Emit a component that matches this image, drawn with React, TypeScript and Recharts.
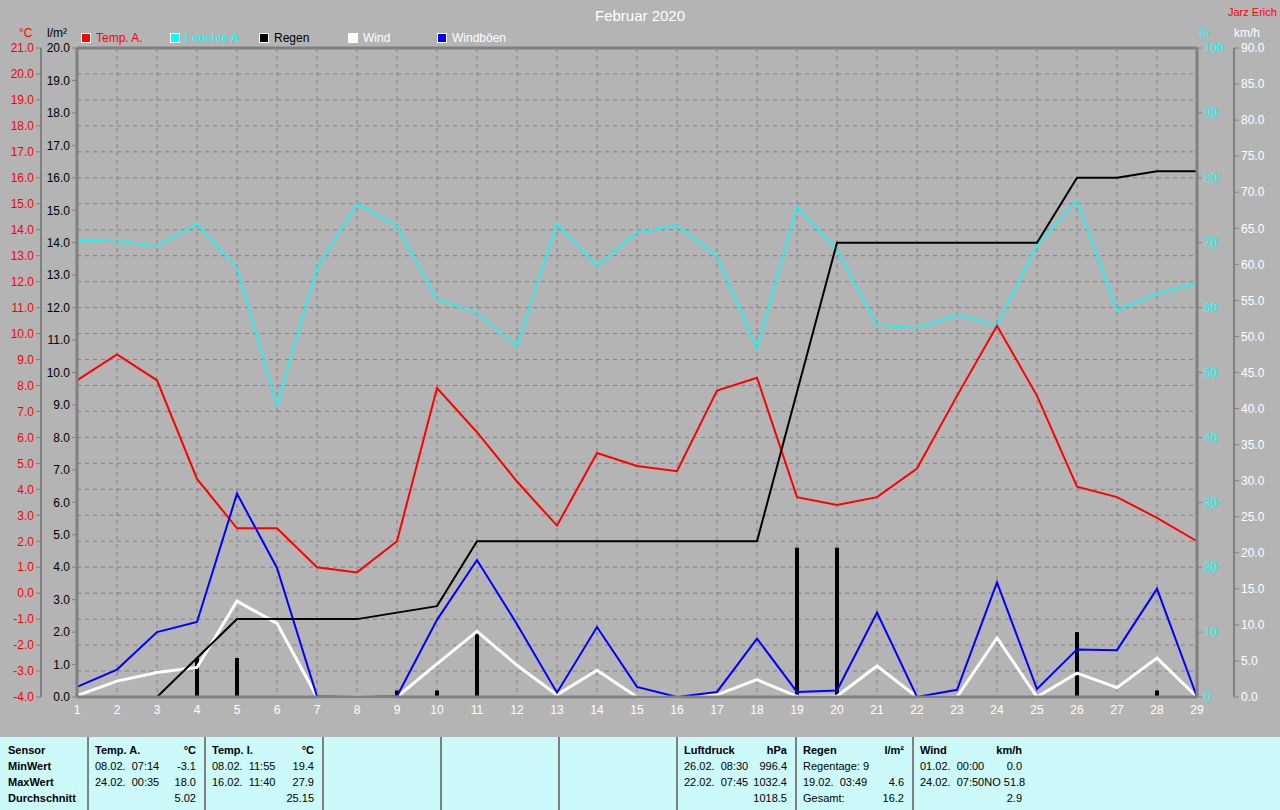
import {
  Bar,
  CartesianGrid,
  ComposedChart,
  Line,
  ReferenceLine,
  XAxis,
  YAxis,
} from "recharts";

const days = [
  1, 2, 3, 4, 5, 6, 7, 8, 9, 10, 11, 12, 13, 14, 15, 16, 17, 18, 19, 20, 21,
  22, 23, 24, 25, 26, 27, 28, 29,
];
const tempA = [
  8.2, 9.2, 8.2, 4.4, 2.5, 2.5, 1.0, 0.8, 2.0, 7.9, 6.2, 4.3, 2.6, 5.4, 4.9,
  4.7, 7.8, 8.3, 3.7, 3.4, 3.7, 4.8, 7.6, 10.3, 7.6, 4.1, 3.7, 2.9, 2.0,
];
const feuchte = [
  70.4, 70.2, 69.5, 72.9, 66.1, 45.0, 66.1, 76.0, 72.6, 61.3, 59.2, 54.1, 72.9,
  66.4, 71.6, 72.6, 68.0, 53.6, 75.5, 68.9, 57.3, 56.9, 58.9, 57.3, 69.6, 76.6,
  59.6, 62.1, 63.8,
];
const regenTag = [
  0, 0, 0, 1.2, 1.2, 0, 0, 0, 0.2, 0.2, 2.0, 0, 0, 0, 0, 0, 0, 0, 4.6, 4.6, 0,
  0, 0, 0, 0, 2.0, 0, 0.2, 0,
];
const regenSumme = [
  0, 0, 0, 1.2, 2.4, 2.4, 2.4, 2.4, 2.6, 2.8, 4.8, 4.8, 4.8, 4.8, 4.8, 4.8, 4.8,
  4.8, 9.4, 14.0, 14.0, 14.0, 14.0, 14.0, 14.0, 16.0, 16.0, 16.2, 16.2,
];
const wind = [
  0.2, 2.2, 3.4, 4.1, 13.3, 10.2, 0, 0, 0, 4.6, 9.1, 4.4, 0.3, 3.7, 0, 0, 0.3,
  2.4, 0.1, 0.1, 4.3, 0, 0, 8.2, 0, 3.3, 1.3, 5.4, 0,
];
const boeen = [
  1.4, 3.8, 9.0, 10.4, 28.2, 17.9, 0.1, 0, 0.1, 10.7, 19.0, 10.1, 0.6, 9.7, 1.4,
  0, 0.7, 8.1, 0.7, 0.9, 11.7, 0, 1.0, 15.9, 1.1, 6.6, 6.5, 15.0, 0,
];

const tempTicks = [
  -4, -3, -2, -1, 0, 1, 2, 3, 4, 5, 6, 7, 8, 9, 10, 11, 12, 13, 14, 15, 16, 17,
  18, 19, 20, 21,
];
const regenTicks = [
  0, 1, 2, 3, 4, 5, 6, 7, 8, 9, 10, 11, 12, 13, 14, 15, 16, 17, 18, 19, 20,
];
const feuchteTicks = [0, 10, 20, 30, 40, 50, 60, 70, 80, 90, 100];
const windTicks = [
  0, 5, 10, 15, 20, 25, 30, 35, 40, 45, 50, 55, 60, 65, 70, 75, 80, 85, 90,
];

const legend = [
  { name: "Temp. A.", color: "#ff0000", text: "#ff0000" },
  { name: "Feuchte A.", color: "#00ffff", text: "#00ffff" },
  { name: "Regen", color: "#000000", text: "#000000" },
  { name: "Wind", color: "#ffffff", text: "#ffffff" },
  { name: "Windböen", color: "#0000ff", text: "#ffffff" },
];

// Tabelle unten: [Überschrift, Einheit], dann Zeilen [links, rechts]
const tableCols = [
  { head: ["Temp. A.", "°C"], rows: [["08.02.  07:14", "-3.1"], ["24.02.  00:35", "18.0"], ["", "5.02"]] },
  { head: ["Temp. I.", "°C"], rows: [["08.02.  11:55", "19.4"], ["16.02.  11:40", "27.9"], ["", "25.15"]] },
  null,
  null,
  null,
  { head: ["Luftdruck", "hPa"], rows: [["26.02.  08:30", "996.4"], ["22.02.  07:45", "1032.4"], ["", "1018.5"]] },
  { head: ["Regen", "l/m²"], rows: [["Regentage: 9", ""], ["19.02.  03:49", "4.6"], ["Gesamt:", "16.2"]] },
  { head: ["Wind", "km/h"], rows: [["01.02.  00:00", "0.0"], ["24.02.  07:50", "NO 51.8"], ["", "2.9"]] },
];
const rowLabels = ["Sensor", "MinWert", "MaxWert", "Durchschnitt"];

const data = days.map((d, i) => ({
  day: d,
  temp: tempA[i],
  feuchte: feuchte[i],
  regen: regenTag[i],
  summe: regenSumme[i],
  wind: wind[i],
  boeen: boeen[i],
}));

const BG = "#b4b4b4";
const AXIS = "#808080";
const FONT = "'Liberation Sans', Arial, sans-serif";

const txt = (x: number, y: number, color: string, s: string, size = 12) => (
  <div
    style={{
      position: "absolute",
      left: x,
      top: y,
      color,
      fontSize: size,
      lineHeight: "14px",
      whiteSpace: "nowrap",
    }}
  >
    {s}
  </div>
);

export default function App() {
  const colX = [88, 205, 323, 441, 559, 677, 796, 913];
  return (
    <div
      style={{
        position: "absolute",
        left: 0,
        top: 0,
        width: 1280,
        height: 810,
        background: BG,
        fontFamily: FONT,
        overflow: "hidden",
      }}
    >
      <ComposedChart
        width={1280}
        height={737}
        data={data}
        margin={{ top: 48, right: 0, bottom: 0, left: 0 }}
        style={{ position: "absolute", left: 0, top: 0 }}
      >
        <CartesianGrid yAxisId="temp" stroke={AXIS} strokeDasharray="4 4" />
        <XAxis
          dataKey="day"
          type="number"
          domain={[1, 29]}
          ticks={days}
          interval={0}
          height={40}
          axisLine={{ stroke: AXIS, strokeWidth: 3 }}
          tickLine={false}
          tick={{ fill: "#ffffff", fontSize: 12 }}
        />
        <YAxis
          yAxisId="regen"
          orientation="left"
          width={36}
          domain={[0, 20]}
          ticks={regenTicks}
          interval={0}
          axisLine={{ stroke: AXIS, strokeWidth: 3 }}
          tickLine={{ stroke: AXIS }}
          tickSize={5}
          tickMargin={2}
          tick={{ fill: "#000000", fontSize: 12 }}
          tickFormatter={(v: number) => v.toFixed(1)}
        />
        <YAxis
          yAxisId="temp"
          orientation="left"
          width={41}
          domain={[-4, 21]}
          ticks={tempTicks}
          interval={0}
          axisLine={{ stroke: AXIS, strokeWidth: 2 }}
          tickLine={{ stroke: AXIS }}
          tickSize={5}
          tickMargin={2}
          tick={{ fill: "#ff0000", fontSize: 12 }}
          tickFormatter={(v: number) => v.toFixed(1)}
        />
        <YAxis
          yAxisId="feuchte"
          orientation="right"
          width={37}
          domain={[0, 100]}
          ticks={feuchteTicks}
          interval={0}
          axisLine={{ stroke: AXIS, strokeWidth: 3 }}
          tickLine={{ stroke: AXIS }}
          tickSize={5}
          tickMargin={2}
          tick={{ fill: "#00ffff", fontSize: 12 }}
        />
        <YAxis
          yAxisId="wind"
          orientation="right"
          width={46}
          domain={[0, 90]}
          ticks={windTicks}
          interval={0}
          axisLine={{ stroke: AXIS, strokeWidth: 2 }}
          tickLine={{ stroke: AXIS }}
          tickSize={5}
          tickMargin={2}
          tick={{ fill: "#ffffff", fontSize: 12 }}
          tickFormatter={(v: number) => v.toFixed(1)}
        />
        <ReferenceLine yAxisId="regen" y={20} stroke={AXIS} strokeWidth={3} />
        <Line
          yAxisId="feuchte"
          dataKey="feuchte"
          type="linear"
          stroke="#00ffff"
          strokeWidth={1.5}
          dot={false}
          activeDot={false}
          isAnimationActive={false}
        />
        <Line
          yAxisId="temp"
          dataKey="temp"
          type="linear"
          stroke="#ff0000"
          strokeWidth={2}
          dot={false}
          activeDot={false}
          isAnimationActive={false}
        />
        <Line
          yAxisId="wind"
          dataKey="wind"
          type="linear"
          stroke="#ffffff"
          strokeWidth={3}
          dot={false}
          activeDot={false}
          isAnimationActive={false}
        />
        <Line
          yAxisId="wind"
          dataKey="boeen"
          type="linear"
          stroke="#0000ff"
          strokeWidth={2}
          dot={false}
          activeDot={false}
          isAnimationActive={false}
        />
        <Line
          yAxisId="regen"
          dataKey="summe"
          type="linear"
          stroke="#000000"
          strokeWidth={2}
          dot={false}
          activeDot={false}
          isAnimationActive={false}
        />
        <Bar
          yAxisId="regen"
          dataKey="regen"
          fill="#000000"
          barSize={4}
          isAnimationActive={false}
        />
      </ComposedChart>

      <div
        style={{
          position: "absolute",
          left: 0,
          top: 7,
          width: 1280,
          textAlign: "center",
          color: "#ffffff",
          fontSize: 15,
        }}
      >
        Februar 2020
      </div>
      {txt(1228, 5, "#ff0000", "Jarz Erich", 11)}
      {txt(19, 26, "#ff0000", "°C")}
      {txt(47, 26, "#000000", "l/m²")}
      {txt(1198, 26, "#00ffff", "%")}
      {txt(1234, 26, "#ffffff", "km/h")}

      {legend.map((l, i) => (
        <div
          key={l.name}
          style={{
            position: "absolute",
            left: 81 + i * 89,
            top: 31,
            display: "flex",
            alignItems: "center",
            gap: 5,
            fontSize: 12,
            color: l.text,
          }}
        >
          <span
            style={{
              display: "inline-block",
              width: 8,
              height: 8,
              background: l.color,
              border: "1px solid #ffffff",
            }}
          />
          {l.name}
        </div>
      ))}

      <div
        style={{
          position: "absolute",
          left: 0,
          top: 737,
          width: 1280,
          height: 73,
          background: "#ccf9f9",
          fontSize: 11,
          color: "#000000",
        }}
      >
        {colX.map((x) => (
          <div
            key={x}
            style={{
              position: "absolute",
              left: x - 1,
              top: 0,
              width: 2,
              height: 73,
              background: AXIS,
            }}
          />
        ))}
        {rowLabels.map((r, i) => (
          <div
            key={r}
            style={{
              position: "absolute",
              left: 8,
              top: 7 + i * 16,
              fontWeight: "bold",
            }}
          >
            {r}
          </div>
        ))}
        {tableCols.map((c, ci) =>
          c ? (
            <div
              key={ci}
              style={{
                position: "absolute",
                left: colX[ci] + 7,
                top: 7,
                width: colX[ci + 1] ? colX[ci + 1] - colX[ci] - 16 : 102,
              }}
            >
              <div style={{ display: "flex", justifyContent: "space-between", fontWeight: "bold", height: 16 }}>
                <span>{c.head[0]}</span>
                <span>{c.head[1]}</span>
              </div>
              {c.rows.map((row, ri) => (
                <div
                  key={ri}
                  style={{ display: "flex", justifyContent: "space-between", height: 16, whiteSpace: "pre" }}
                >
                  <span>{row[0]}</span>
                  <span>{row[1]}</span>
                </div>
              ))}
            </div>
          ) : null,
        )}
      </div>
    </div>
  );
}
